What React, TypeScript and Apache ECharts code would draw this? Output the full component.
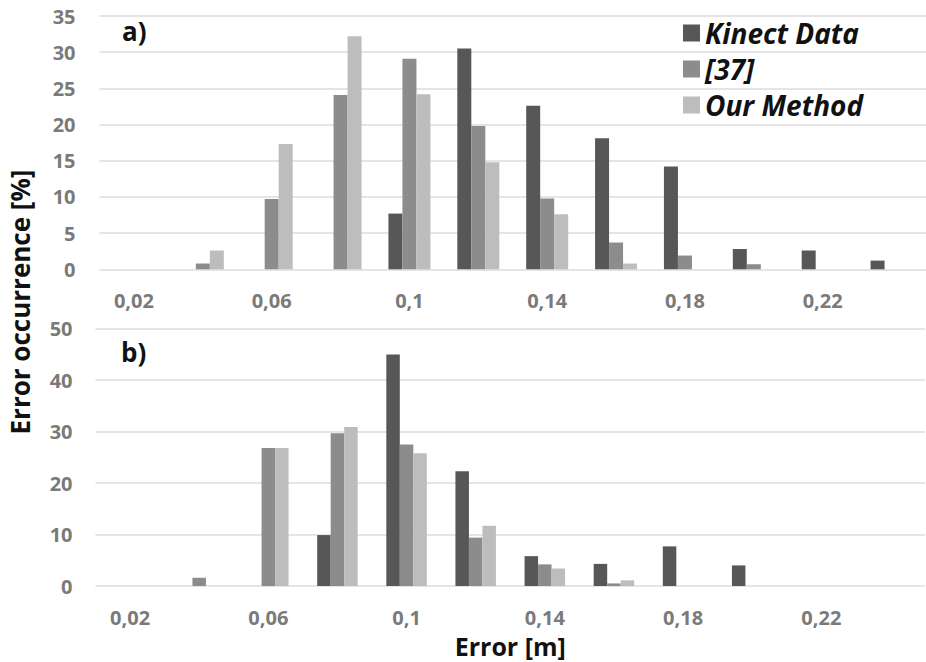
import React, { useEffect, useRef } from "react";
import * as echarts from "echarts";

const categories = ["0,02", "0,04", "0,06", "0,08", "0,1", "0,12", "0,14", "0,16", "0,18", "0,2", "0,22", "0,24"];
const seriesNames = ["Kinect Data", "[37]", "Our Method"];
const kinectA = [0, 0, 0, 0, 7.7, 30.5, 22.6, 18.1, 14.2, 2.8, 2.6, 1.2];
const ref37A = [0, 0.8, 9.7, 24.1, 29.1, 19.8, 9.8, 3.7, 1.9, 0.7, 0, 0];
const oursA = [0, 2.6, 17.3, 32.2, 24.2, 14.8, 7.6, 0.8, 0, 0, 0, 0];
const kinectB = [0, 0, 0, 9.9, 45.0, 22.3, 5.8, 4.3, 7.7, 4.0, 0, 0];
const ref37B = [0, 1.6, 26.8, 29.7, 27.5, 9.4, 4.2, 0.5, 0, 0, 0, 0];
const oursB = [0, 0, 26.8, 30.9, 25.8, 11.7, 3.4, 1.1, 0, 0, 0, 0];

const colors = ["#575757", "#8c8c8c", "#bdbdbd"];
const FONT = "'Open Sans', 'Noto Sans', sans-serif";

export default function App() {
  const ref = useRef<HTMLDivElement>(null);
  useEffect(() => {
    if (!ref.current) return;
    const chart = echarts.init(ref.current, undefined, { renderer: "svg" });
    const xAxisCommon = {
      type: "category" as const,
      data: categories,
      axisLine: { show: false },
      axisTick: { show: false },
      axisLabel: {
        interval: 1,
        margin: 22,
        color: "#7a7a7a",
        fontSize: 20,
        lineHeight: 18,
        fontWeight: "bold" as const,
        fontFamily: FONT,
      },
      splitLine: { show: false },
    };
    const yAxisCommon = {
      type: "value" as const,
      min: 0,
      axisLine: { show: false },
      axisTick: { show: false },
      axisLabel: {
        color: "#7a7a7a",
        fontSize: 20,
        fontWeight: "bold" as const,
        fontFamily: FONT,
      },
      splitLine: { show: true, lineStyle: { color: "#dcdcdc", width: 1.5 } },
    };
    const dataA = [kinectA, ref37A, oursA];
    const dataB = [kinectB, ref37B, oursB];
    const series: any[] = [];
    dataA.forEach((d, i) => {
      series.push({
        name: seriesNames[i],
        type: "bar",
        xAxisIndex: 0,
        yAxisIndex: 0,
        data: d,
        barWidth: 14,
        barGap: "0%",
        itemStyle: { color: colors[i] },
      });
    });
    dataB.forEach((d, i) => {
      series.push({
        name: seriesNames[i],
        type: "bar",
        xAxisIndex: 1,
        yAxisIndex: 1,
        data: d,
        barWidth: 13.5,
        barGap: "0%",
        itemStyle: { color: colors[i] },
      });
    });
    chart.setOption({
      animation: false,
      backgroundColor: "#ffffff",
      grid: [
        { left: 99.5, top: 16, width: 828, height: 253.3 },
        { left: 95.5, top: 328.7, width: 829.5, height: 257.3 },
      ],
      xAxis: [
        { ...xAxisCommon, gridIndex: 0 },
        {
          ...xAxisCommon,
          gridIndex: 1,
          name: "Error [m]",
          nameLocation: "middle",
          nameGap: 49,
          nameTextStyle: {
            color: "#111111",
            fontSize: 25,
            lineHeight: 22,
            fontWeight: "bold",
            fontFamily: FONT,
          },
        },
      ],
      yAxis: [
        { ...yAxisCommon, gridIndex: 0, max: 35, interval: 5, axisLabel: { ...yAxisCommon.axisLabel, margin: 24 } },
        { ...yAxisCommon, gridIndex: 1, max: 50, interval: 10, axisLabel: { ...yAxisCommon.axisLabel, margin: 23 } },
      ],
      legend: {
        data: seriesNames,
        orient: "vertical",
        left: 683,
        top: 19,
        padding: 0,
        itemWidth: 17,
        itemHeight: 17,
        itemGap: 8,
        icon: "rect",
        selectedMode: false,
        textStyle: {
          color: "#111111",
          fontSize: 28,
          fontWeight: "bold",
          fontStyle: "italic",
          fontFamily: FONT,
          lineHeight: 28,
        },
      },
      graphic: [
        {
          type: "text",
          left: 122,
          top: 18,
          style: { text: "a)", fill: "#111111", font: `bold 26px ${FONT}` },
        },
        {
          type: "text",
          left: 121,
          top: 339,
          style: { text: "b)", fill: "#111111", font: `bold 26px ${FONT}` },
        },
        {
          type: "text",
          x: 20,
          y: 302,
          rotation: Math.PI / 2,
          style: {
            text: "Error occurrence [%]",
            fill: "#111111",
            font: `bold 26px ${FONT}`,
            align: "center",
            verticalAlign: "middle",
          },
        },
      ],
      series,
    });
    return () => chart.dispose();
  }, []);
  return (
    <div style={{ position: "fixed", left: 0, top: 0, width: 926, height: 662, background: "#fff" }}>
      <div ref={ref} style={{ width: 926, height: 662 }} />
    </div>
  );
}
